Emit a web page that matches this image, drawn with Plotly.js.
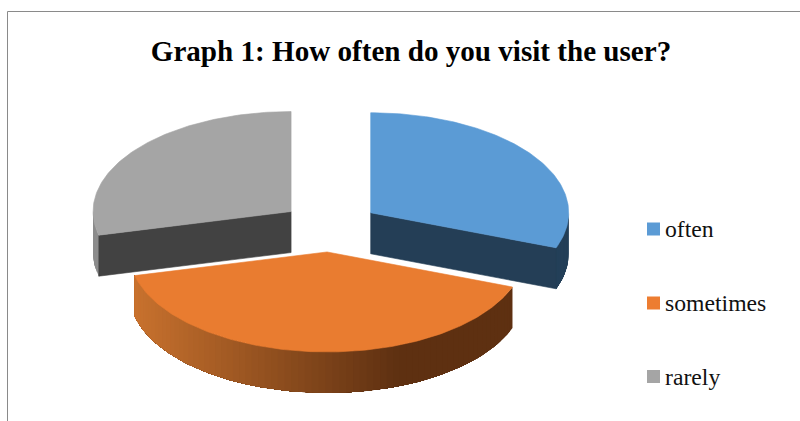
<!DOCTYPE html>
<html>
<head>
<meta charset="utf-8">
<script src="https://cdn.plot.ly/plotly-3.0.1.min.js"></script>
<style>html,body{margin:0;padding:0;background:#fff}#chart{width:800px;height:421px}</style>
</head>
<body>
<div id="chart"></div>
<script>
// Survey answers, in percent
const categories = ['often', 'sometimes', 'rarely'];
const values = [30.7, 40.5, 28.8];
const chartTitle = 'Graph 1: How often do you visit the user?';

// Face colours for each slice
const topColors = ['#5b9bd5', '#e97c30', '#a5a5a5'];
const swatchColors = ['#5b9bd5', '#ed7d31', '#a5a5a5'];

// Tilted-disc projection used by the exploded 3D pie, in plot units
const disc = {cx: 330, cy: 227, rx: 198, ry: 100, depth: 41, explode: 0.25};
const legendPos = {x: 653.5, y: [229, 303, 376.5], textX: 665};

const traces = [];
const DEG = Math.PI / 180;
const total = values.reduce((a, b) => a + b, 0);

function point(o, a, z) {
  return [o.x + disc.rx * Math.sin(a), o.y - disc.ry * Math.cos(a) + (z || 0)];
}
function polygon(pts, color, width) {
  traces.push({
    type: 'scatter', mode: 'lines', fill: 'toself', fillcolor: color,
    x: pts.map(p => p[0]), y: pts.map(p => p[1]),
    line: {color: color, width: width === undefined ? 0.6 : width},
    hoverinfo: 'skip', showlegend: false
  });
}
function mix(c1, c2, t) {
  t = Math.max(0, Math.min(1, t));
  const r = c1.map((v, i) => Math.round(v + (c2[i] - v) * t));
  return `rgb(${r[0]},${r[1]},${r[2]})`;
}
// Rim between two angles. Each band is painted from its own angle to the far end
// of the rim and covered by the next one, which keeps the shading free of seams.
function rim(o, a0, a1, shade) {
  const n = Math.max(2, Math.ceil((a1 - a0) / (2 * DEG)));
  for (let i = 0; i < n; i++) {
    const s = a0 + (a1 - a0) * i / n;
    const upper = [], lower = [];
    for (let j = i; j <= n; j++) {
      const a = a0 + (a1 - a0) * j / n;
      upper.push(point(o, a));
      lower.unshift(point(o, a, disc.depth));
    }
    const pts = upper.concat(lower, [upper[0]]);
    polygon(pts, shade(point(o, s)[0]), 0);
  }
}

let start = 0;
const slices = values.map((v, i) => {
  const a0 = start, a1 = start + v / total * 2 * Math.PI;
  start = a1;
  const mid = (a0 + a1) / 2;
  return {
    a0, a1, i,
    o: {x: disc.cx + disc.explode * disc.rx * Math.sin(mid),
        y: disc.cy - disc.explode * disc.ry * Math.cos(mid)}
  };
});

const orangeLight = [201, 114, 46], orangeDark = [94, 48, 17];
const rimShade = [
  () => '#233f58',
  x => mix(orangeLight, orangeDark, (x - 134) / 268),
  () => '#8c8c8c'
];
const cutShade = ['#243e56', null, '#424242'];

[2, 0, 1].forEach(k => {
  const s = slices[k];
  // Only the front half of the rim faces the viewer
  const lo = Math.max(s.a0, 90 * DEG), hi = Math.min(s.a1, 270 * DEG);
  if (hi > lo) rim(s.o, lo, hi, rimShade[k]);
  // Cut faces turned toward the viewer
  if (cutShade[k]) {
    const edge = k === 0 ? s.a1 : s.a0;
    const e = point(s.o, edge);
    polygon([[s.o.x, s.o.y], e, point(s.o, edge, disc.depth),
             [s.o.x, s.o.y + disc.depth], [s.o.x, s.o.y]], cutShade[k]);
  }
  // Top face
  const pts = [[s.o.x, s.o.y]];
  for (let a = s.a0; a < s.a1; a += DEG) pts.push(point(s.o, a));
  pts.push(point(s.o, s.a1), [s.o.x, s.o.y]);
  polygon(pts, topColors[k]);
});

// Legend column: square swatch plus its label
categories.forEach((name, i) => {
  traces.push({
    type: 'scatter', mode: 'markers',
    x: [legendPos.x], y: [legendPos.y[i]],
    marker: {symbol: 'square', size: 13, color: swatchColors[i], line: {width: 0}},
    hoverinfo: 'skip', showlegend: false
  });
});

const layout = {
  width: 800, height: 421,
  margin: {l: 0, r: 0, t: 0, b: 0},
  paper_bgcolor: '#fff', plot_bgcolor: '#fff',
  showlegend: false,
  title: {
    text: '<b>' + chartTitle + '</b>',
    x: 411 / 800, xanchor: 'center', y: 1 - 51 / 421, yanchor: 'middle',
    font: {family: '"Liberation Serif", serif', size: 29.1, color: '#000'}
  },
  xaxis: {range: [0, 800], visible: false, fixedrange: true},
  yaxis: {range: [421, 0], visible: false, fixedrange: true},
  annotations: categories.map((name, i) => ({
    x: legendPos.textX, y: legendPos.y[i], xref: 'x', yref: 'y',
    text: name, showarrow: false, xanchor: 'left', yanchor: 'middle', xshift: -2,
    font: {family: '"Liberation Serif", serif', size: 23.7, color: '#111'}
  })),
  shapes: [{
    type: 'path', xref: 'x', yref: 'y',
    path: 'M7.5,421 L7.5,11.5 L800,11.5',
    line: {color: '#8a8a8a', width: 1}
  }]
};

Plotly.newPlot('chart', traces, layout, {displayModeBar: false, staticPlot: true});
</script>
</body>
</html>
